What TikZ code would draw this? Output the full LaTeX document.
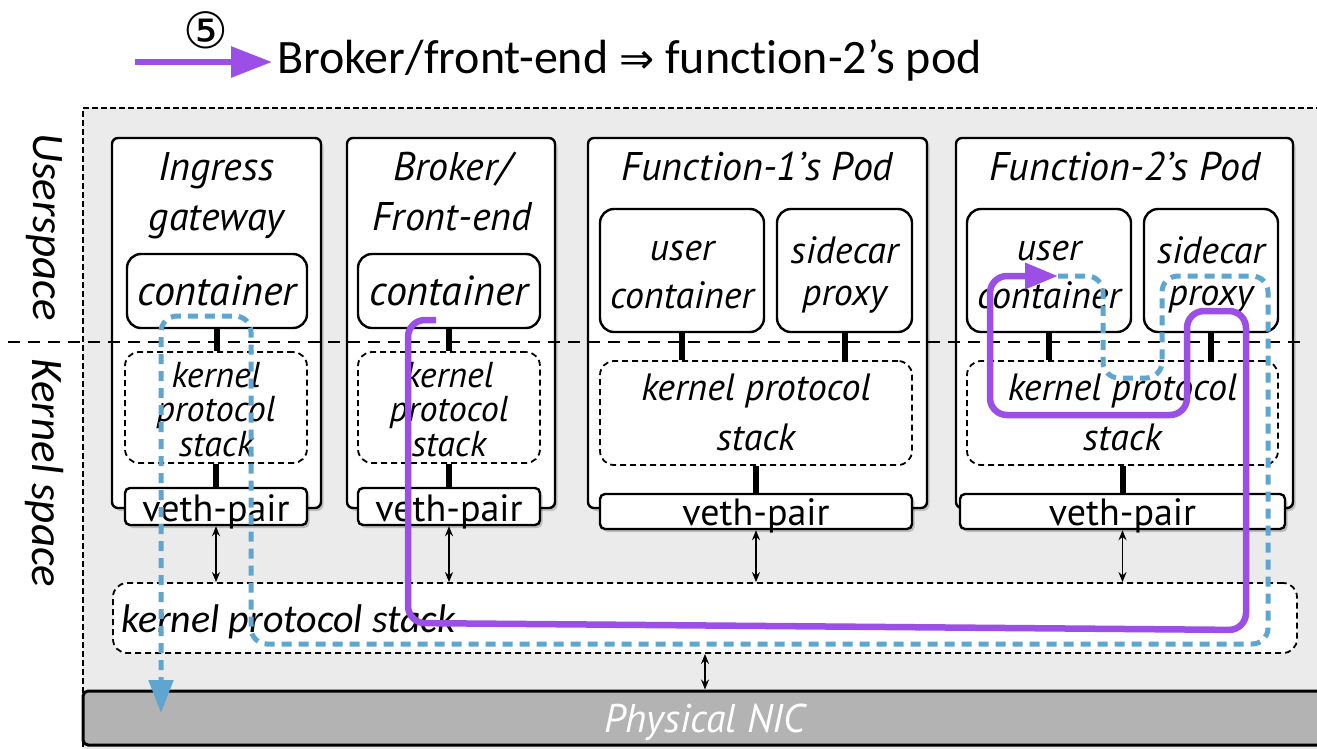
\documentclass[tikz,border=0pt]{standalone}
\usepackage{fontspec}
\setmainfont{PT Sans}
\newfontfamily\calfont[Ligatures=NoCommon]{Carlito}
\newfontfamily\symfont{DejaVu Sans}
\usetikzlibrary{arrows.meta,shadows}
\definecolor{flowpurple}{HTML}{9B4FE6}
\definecolor{flowblue}{HTML}{5EA6CF}
\definecolor{bggray}{HTML}{EBEBEB}
\definecolor{nicgray}{HTML}{B3B3B3}
\tikzset{
  podbox/.style={draw, line width=2.4pt, rounded corners=6pt, fill=white, inner sep=0pt,
    drop shadow={shadow xshift=2.5pt, shadow yshift=-3pt, fill=black, opacity=0.18}},
  ctbox/.style={draw, line width=2.4pt, rounded corners=14pt, fill=white, inner sep=0pt},
  kpsbox/.style={draw, line width=1.8pt, dash pattern=on 6pt off 4pt, rounded corners=14pt, fill=white, inner sep=0pt},
  vethbox/.style={draw, line width=2.4pt, rounded corners=5pt, fill=white, inner sep=0pt,
    drop shadow={shadow xshift=2.5pt, shadow yshift=-3pt, fill=black, opacity=0.2}},
  lbl/.style={inner sep=0pt, anchor=base},
  ital/.style={font=\itshape\fontsize{#1}{#1}\selectfont},
  upr/.style={font=\fontsize{#1}{#1}\selectfont},
  calit/.style={font=\calfont\itshape\fontsize{#1}{#1}\selectfont},
  stem/.style={line width=6pt},
  dbl/.style={{Stealth[length=10pt,width=8pt]}-{Stealth[length=10pt,width=8pt]}, line width=1.6pt},
  divider/.style={line width=2pt, dash pattern=on 12pt off 8pt},
  purpleflow/.style={flowpurple, line width=6.5pt, rounded corners=17pt},
  blueflow/.style={flowblue, line width=5pt, dash pattern=on 10pt off 7pt, rounded corners=16pt},
}
\begin{document}
\begin{tikzpicture}[x=1pt,y=-1pt]
\useasboundingbox (0,0) rectangle (1317,748);

% host area
\node[draw, fill=bggray, line width=2.2pt, dash pattern=on 6pt off 3pt, inner sep=0pt,
      minimum width=1260pt, minimum height=645pt] (host) at (713,430.5) {};

% legend
\coordinate (legS) at (135,62);
\coordinate (legE) at (272,62);
\draw[flowpurple, line width=6pt, -{Triangle[length=41pt,width=30pt]}] (legS) -- (legE);
\node[inner sep=0pt, font=\symfont\fontsize{50}{50}\selectfont] (legN) at (206,30) {⑤};
\node[lbl, anchor=base west, font=\calfont\fontsize{48}{48}\selectfont] (legT) at (277,73)
  {Broker/front-end {\symfont\fontsize{42}{42}\selectfont ⇒} function-2’s pod};

% side labels
\node[calit=45, rotate=-90, inner sep=0pt] (us) at (44,227) {Userspace};
\node[calit=45, rotate=-90, inner sep=0pt] (ks) at (44,473) {Kernel space};

% pods
\node[podbox, minimum width=209pt, minimum height=370pt] (ingP) at (216.5,323) {};
\node[podbox, minimum width=208pt, minimum height=370pt] (broP) at (451,323) {};
\node[podbox, minimum width=339pt, minimum height=370pt] (f1P) at (757.5,323) {};
\node[podbox, minimum width=337pt, minimum height=370pt] (f2P) at (1124.5,323) {};

% containers
\node[ctbox, minimum width=180pt, minimum height=74pt] (ingC) at (217,291) {};
\node[ctbox, minimum width=182pt, minimum height=74pt] (broC) at (449,291) {};
\node[ctbox, minimum width=164pt, minimum height=123pt] (f1U) at (682,270.5) {};
\node[ctbox, minimum width=135pt, minimum height=123pt] (f1S) at (844.5,270.5) {};
\node[ctbox, minimum width=164pt, minimum height=123pt] (f2U) at (1049,270.5) {};
\node[ctbox, minimum width=134pt, minimum height=123pt] (f2S) at (1211,270.5) {};

% per-pod kernel protocol stacks
\node[kpsbox, minimum width=182pt, minimum height=111pt] (ingK) at (216,407.5) {};
\node[kpsbox, minimum width=182pt, minimum height=111pt] (broK) at (449,407.5) {};
\node[kpsbox, minimum width=312pt, minimum height=104pt] (f1K) at (756,413) {};
\node[kpsbox, minimum width=311pt, minimum height=104pt] (f2K) at (1122.5,413) {};

% veth pairs
\node[vethbox, minimum width=182pt, minimum height=37pt] (ingV) at (216,506.5) {};
\node[vethbox, minimum width=182pt, minimum height=37pt] (broV) at (449,506.5) {};
\node[vethbox, minimum width=312pt, minimum height=35pt] (f1V) at (756,511.5) {};
\node[vethbox, minimum width=325pt, minimum height=35pt] (f2V) at (1122.5,511.5) {};

% host kernel stack and NIC
\node[kpsbox, minimum width=1184pt, minimum height=70pt] (hostK) at (705,618) {};
\node[draw, fill=nicgray, line width=3pt, rounded corners=5pt, inner sep=0pt,
      minimum width=1252pt, minimum height=54pt] (nic) at (709,718) {};

% user/kernel boundary
\draw[divider] (8,342) -- (1300,342);

% stems between layers
\draw[stem] (ingC.south) -- (ingC.south |- ingK.north);
\draw[stem] (broC.south) -- (broC.south |- broK.north);
\draw[stem] (f1U.south) -- (f1U.south |- f1K.north);
\draw[stem] (f1S.south) -- (f1S.south |- f1K.north);
\draw[stem] (f2U.south) -- (f2U.south |- f2K.north);
\draw[stem] (f2S.south) -- (f2S.south |- f2K.north);
\draw[stem] (ingK.south) -- (ingK.south |- ingV.north);
\draw[stem] (broK.south) -- (broK.south |- broV.north);
\draw[stem] (f1K.south) -- (f1K.south |- f1V.north);
\draw[stem] (f2K.south) -- (f2K.south |- f2V.north);

% veth <-> host stack <-> NIC
\draw[dbl] (ingV.south) -- (ingV.south |- hostK.north);
\draw[dbl] (broV.south) -- (broV.south |- hostK.north);
\draw[dbl] (f1V.south) -- (f1V.south |- hostK.north);
\draw[dbl] (f2V.south) -- (f2V.south |- hostK.north);
\draw[dbl] (hostK.south) -- (hostK.south |- nic.north);

% texts
\node[lbl, ital=40] (ingT1) at (216.5,180) {Ingress};
\node[lbl, ital=40] (ingT2) at (216.5,230) {gateway};
\node[lbl, ital=40] (broT1) at (452,180) {Broker/};
\node[lbl, ital=40] (broT2) at (452,230) {Front-end};
\node[lbl, ital=40] (f1T) at (757.5,180) {Function-1’s Pod};
\node[lbl, ital=40] (f2T) at (1125,180) {Function-2’s Pod};

\node[lbl, ital=42] (ingCt) at (217,305) {container};
\node[lbl, ital=42] (broCt) at (449,305) {container};
\node[lbl, ital=38] (f1Ut1) at (682,260) {user};
\node[lbl, ital=38] (f1Ut2) at (682,308) {container};
\node[lbl, ital=38] (f1St1) at (844.5,263) {sidecar};
\node[lbl, ital=38] (f1St2) at (844.5,305) {proxy};
\node[lbl, ital=38] (f2Ut1) at (1049,260) {user};
\node[lbl, ital=38] (f2Ut2) at (1049,308) {container};
\node[lbl, ital=38] (f2St1) at (1211,263) {sidecar};
\node[lbl, ital=38] (f2St2) at (1211,305) {proxy};

\node[lbl, ital=36] (ingK1) at (216,387) {kernel};
\node[lbl, ital=36] (ingK2) at (216,421) {protocol};
\node[lbl, ital=36] (ingK3) at (216,456) {stack};
\node[lbl, ital=36] (broK1) at (449,387) {kernel};
\node[lbl, ital=36] (broK2) at (449,421) {protocol};
\node[lbl, ital=36] (broK3) at (449,456) {stack};
\node[lbl, ital=38] (f1K1) at (756,400) {kernel protocol};
\node[lbl, ital=38] (f1K2) at (756,450) {stack};
\node[lbl, ital=38] (f2K1) at (1122.5,400) {kernel protocol};
\node[lbl, ital=38] (f2K2) at (1122.5,450) {stack};

\node[lbl, upr=38] (ingVt) at (216,521) {veth-pair};
\node[lbl, upr=38] (broVt) at (449,521) {veth-pair};
\node[lbl, upr=38] (f1Vt) at (756,525) {veth-pair};
\node[lbl, upr=38] (f2Vt) at (1122.5,525) {veth-pair};

\node[lbl, anchor=base west, calit=40] (hostKt) at (121,632) {kernel protocol stack};
\node[lbl, ital=40, text=white] (nicT) at (705,732) {Physical NIC};

% reply path (blue, dashed)
\draw[blueflow, -{Triangle[length=33pt,width=24pt]}]
  (1058,276) -- (1103,276) -- (1103,378) -- (1162,378) -- (1162,276) -- (1268,276)
  -- (1268,644) -- (251,644) -- (251,316) -- (161,316) -- (161,713);

% broker to function-2 path (purple)
\draw[purpleflow, -{Triangle[length=33pt,width=25pt]}]
  (436,320) -- (408,320) -- (408,623) -- (1246,630) -- (1246,311) -- (1187,311)
  -- (1187,415) -- (990,415) -- (990,276) -- (1058,276);
\end{tikzpicture}
\end{document}
